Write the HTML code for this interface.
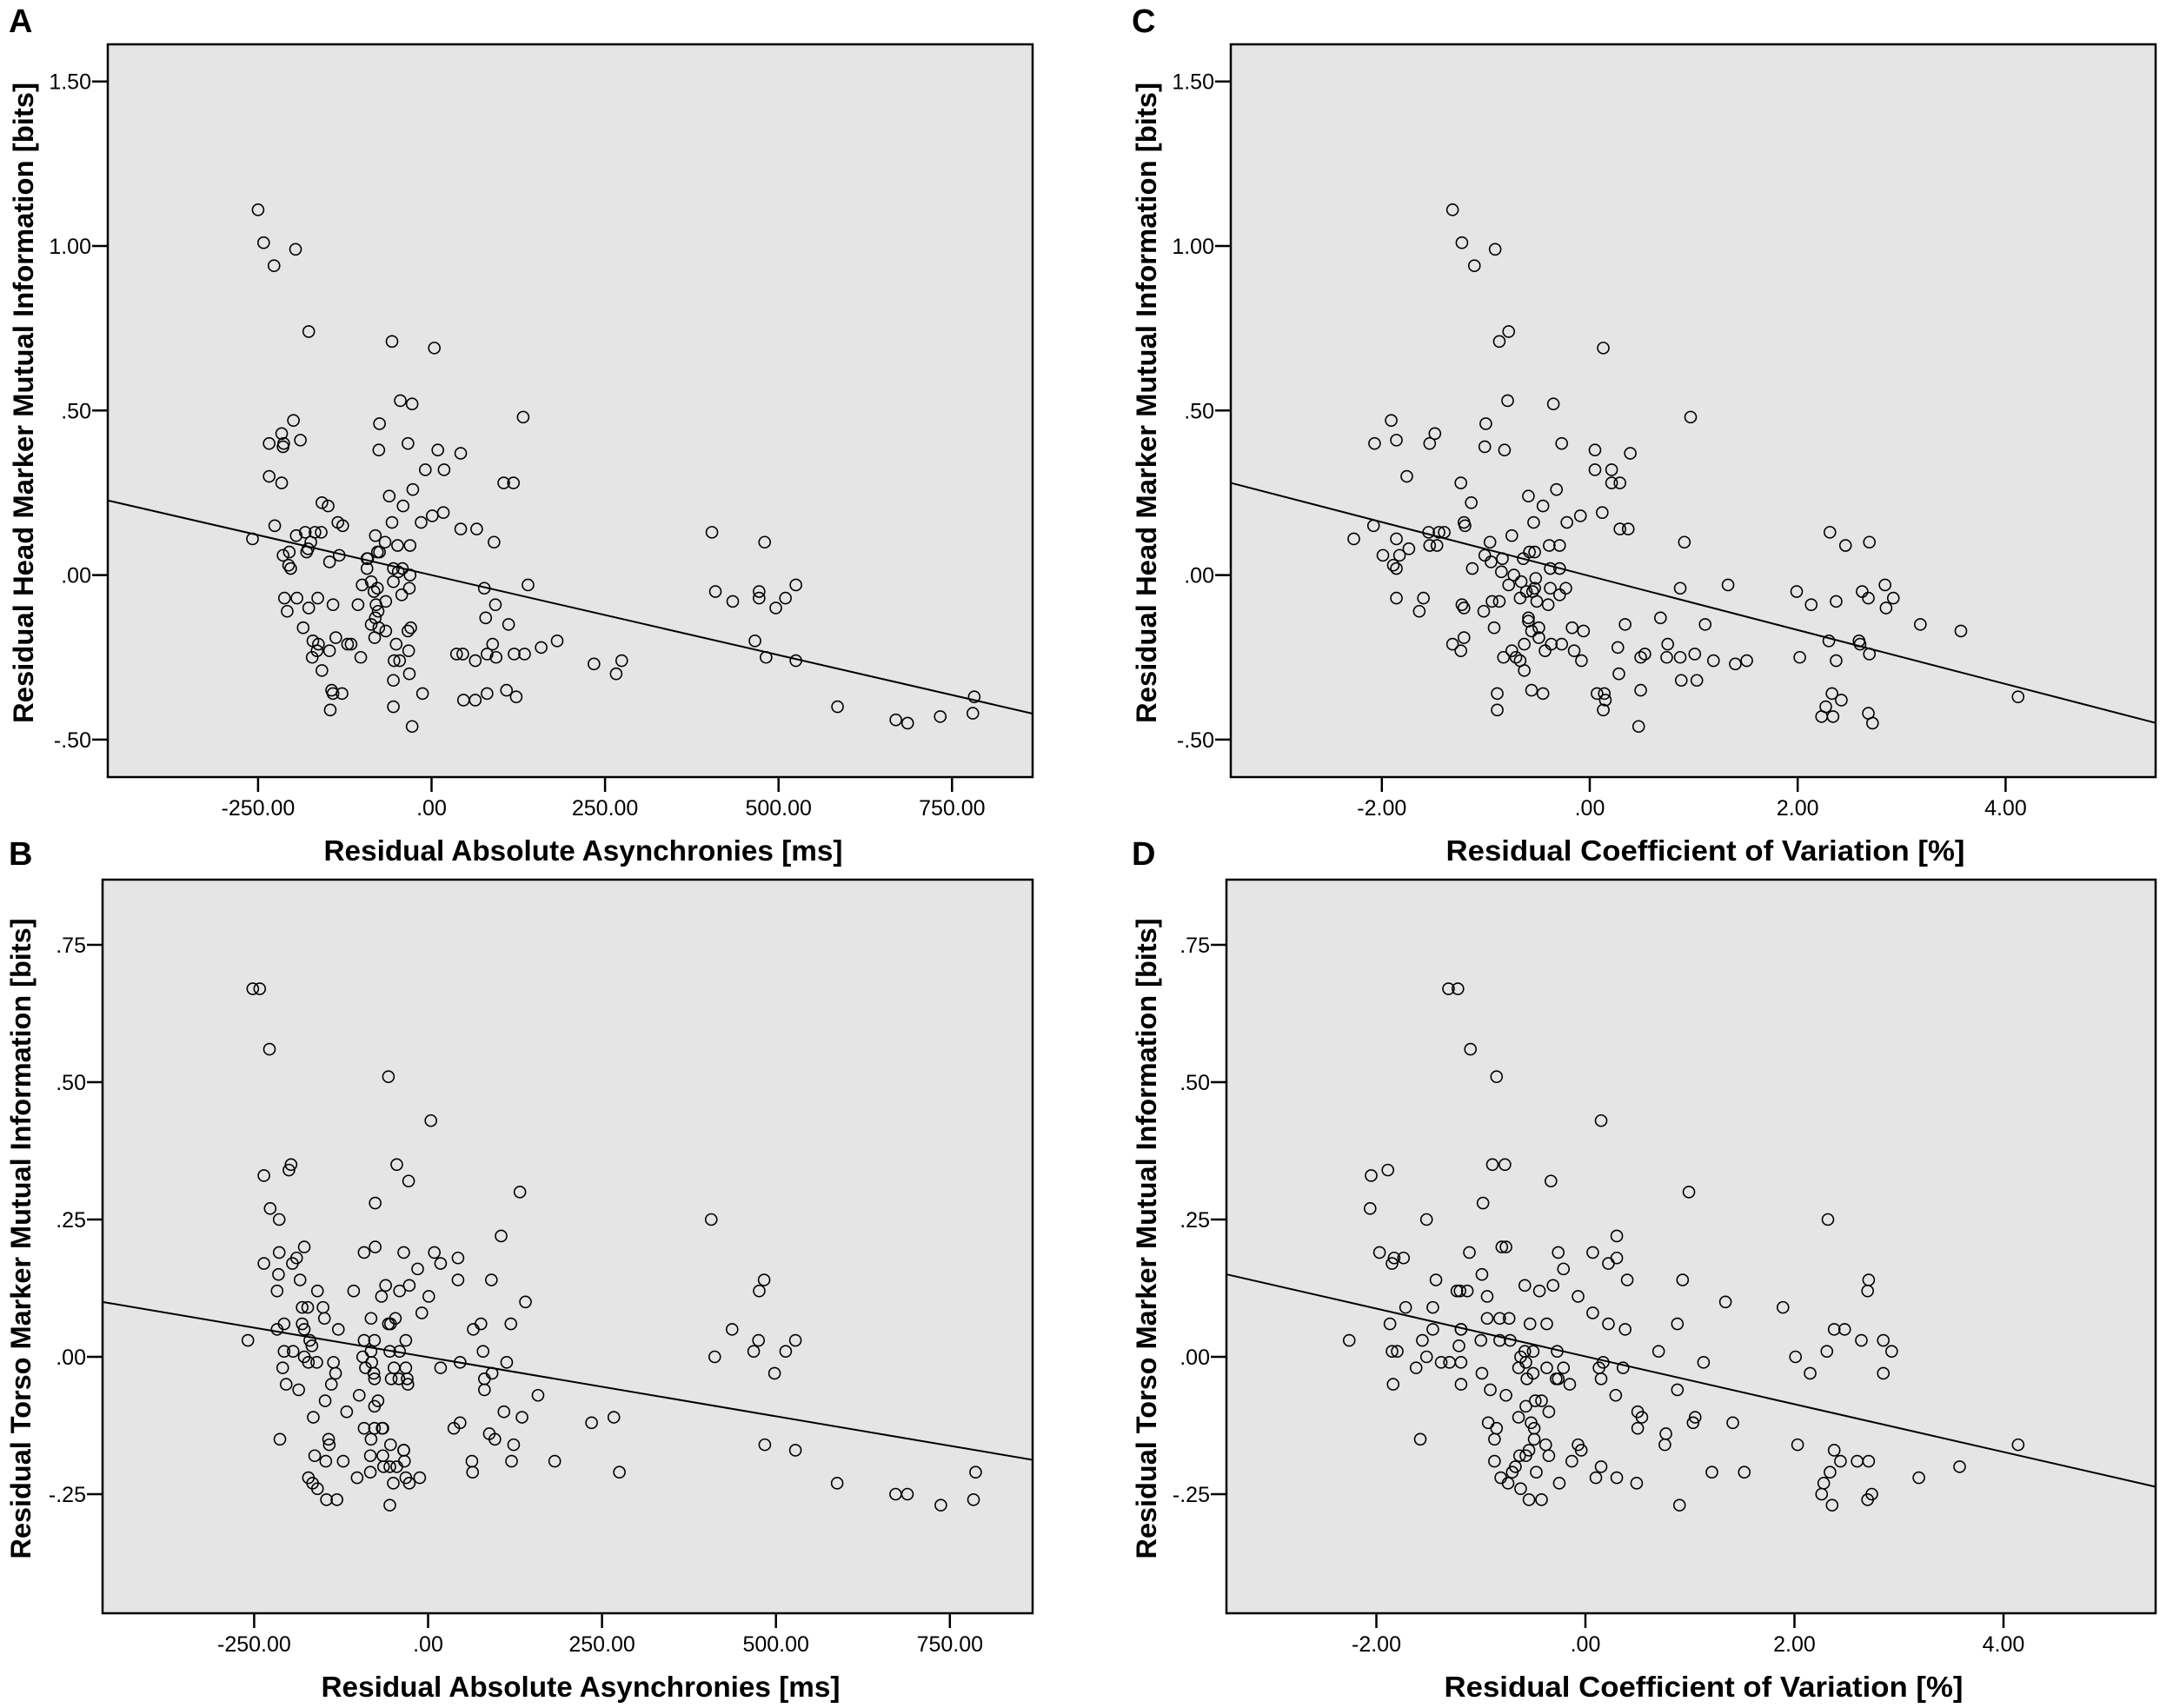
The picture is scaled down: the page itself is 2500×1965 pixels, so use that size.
<!DOCTYPE html>
<html><head><meta charset="utf-8"><style>
html,body{margin:0;padding:0;background:#fff;}
svg{display:block;}
text{font-family:"Liberation Sans",Arial,sans-serif;fill:#000;}
</style></head><body>
<svg id="fig" width="2500" height="1965" viewBox="0 0 2500 1965" xmlns="http://www.w3.org/2000/svg"></svg>
<script>
// ---- data ----
const aAsync=[-250,-242,-227,-196,-177,-57,4,-45,-28,132,-199,-75,-216,-234,-213,-214,-189,-76,-34,9,42,-9,18,-234,-216,104,118,-27,-61,-158,-149,-41,17,1,-15,-226,-135,-128,-57,42,65,-258,-195,-182,-168,-159,-81,90,404,480,-174,-67,-49,-31,-178,-180,-78,-75,-214,-205,-133,-93,-92,-206,-203,-147,-93,-55,-42,-48,-31,-55,-87,-100,-78,-83,-43,-32,76,139,409,472,472,525,510,434,496,-212,-194,-164,-142,-106,-177,-208,-66,-80,-77,-81,92,78,-87,-76,-82,-66,-34,-30,111,-185,-171,-163,-138,-121,-116,466,-51,-165,-147,-172,-102,-33,88,80,93,119,134,158,181,36,45,63,-54,-46,-32,-55,-158,234,266,274,482,525,-144,-142,-129,-13,80,108,46,63,122,-55,-146,-28,585,669,686,733,780,782];
const aHead=[1.11,1.01,0.94,0.99,0.74,0.71,0.69,0.53,0.52,0.48,0.47,0.46,0.43,0.40,0.40,0.39,0.41,0.38,0.40,0.38,0.37,0.32,0.32,0.30,0.28,0.28,0.28,0.26,0.24,0.22,0.21,0.21,0.19,0.18,0.16,0.15,0.16,0.15,0.16,0.14,0.14,0.11,0.12,0.13,0.13,0.13,0.12,0.10,0.13,0.10,0.10,0.10,0.09,0.09,0.08,0.07,0.07,0.07,0.06,0.07,0.06,0.05,0.05,0.03,0.02,0.04,0.02,0.02,0.02,0.01,0.00,-0.02,-0.02,-0.03,-0.04,-0.05,-0.06,-0.04,-0.04,-0.03,-0.05,-0.05,-0.07,-0.03,-0.07,-0.08,-0.10,-0.07,-0.07,-0.07,-0.09,-0.09,-0.10,-0.11,-0.08,-0.09,-0.11,-0.13,-0.09,-0.13,-0.15,-0.16,-0.19,-0.17,-0.17,-0.16,-0.15,-0.16,-0.20,-0.21,-0.19,-0.21,-0.21,-0.20,-0.21,-0.23,-0.23,-0.25,-0.25,-0.23,-0.21,-0.24,-0.25,-0.24,-0.24,-0.22,-0.20,-0.24,-0.24,-0.26,-0.26,-0.26,-0.30,-0.32,-0.29,-0.27,-0.30,-0.26,-0.25,-0.26,-0.35,-0.36,-0.36,-0.36,-0.36,-0.35,-0.38,-0.38,-0.37,-0.40,-0.41,-0.46,-0.40,-0.44,-0.45,-0.43,-0.42,-0.37];
const bAsync=[-252,-242,-228,-57,4,-197,-200,-236,-45,-28,132,-76,-227,-214,407,105,-178,-214,-92,-76,-35,9,-236,-195,-189,43,18,-15,-215,-184,43,91,483,-217,-159,-107,-61,-41,-27,1,-67,476,140,-173,-181,-151,-149,-82,-47,-9,-57,-54,119,76,-207,-217,-181,-178,-129,65,437,-259,-170,-92,-77,-32,475,528,-207,-194,-167,-82,-55,-41,79,468,514,-178,-94,412,-209,-172,-160,-136,-90,-81,-49,-32,18,46,113,-133,-78,-77,-53,-42,-30,81,92,498,-204,-139,-29,-186,81,-148,-99,-72,-77,158,-117,109,-165,-92,-77,-65,-66,37,46,135,235,267,88,-213,-143,-142,-82,-54,-35,-35,123,96,484,528,-163,-83,-65,-34,-147,-122,63,120,182,-102,-83,-64,-55,-45,-32,-12,64,275,-172,-166,-159,-50,-27,588,-146,-131,-55,672,689,737,784,787];
const bTorso=[0.67,0.67,0.56,0.51,0.43,0.35,0.34,0.33,0.35,0.32,0.30,0.28,0.27,0.25,0.25,0.22,0.20,0.19,0.19,0.20,0.19,0.19,0.17,0.17,0.18,0.18,0.17,0.16,0.15,0.14,0.14,0.14,0.14,0.12,0.12,0.12,0.13,0.12,0.13,0.11,0.11,0.12,0.10,0.09,0.09,0.09,0.07,0.07,0.07,0.08,0.06,0.06,0.06,0.06,0.06,0.05,0.06,0.05,0.05,0.05,0.05,0.03,0.03,0.03,0.03,0.03,0.03,0.03,0.01,0.01,0.02,0.01,0.01,0.01,0.01,0.01,0.01,0.00,0.00,0.00,-0.02,-0.01,-0.01,-0.01,-0.02,-0.01,-0.02,-0.02,-0.02,-0.01,-0.01,-0.03,-0.03,-0.04,-0.04,-0.04,-0.04,-0.04,-0.03,-0.03,-0.05,-0.05,-0.05,-0.06,-0.06,-0.08,-0.07,-0.08,-0.09,-0.07,-0.10,-0.10,-0.11,-0.13,-0.13,-0.13,-0.13,-0.13,-0.12,-0.11,-0.12,-0.11,-0.14,-0.15,-0.15,-0.16,-0.15,-0.16,-0.17,-0.17,-0.16,-0.15,-0.16,-0.17,-0.18,-0.18,-0.18,-0.19,-0.19,-0.19,-0.19,-0.19,-0.19,-0.22,-0.21,-0.20,-0.20,-0.20,-0.22,-0.22,-0.21,-0.21,-0.22,-0.23,-0.24,-0.23,-0.23,-0.23,-0.26,-0.26,-0.27,-0.25,-0.25,-0.27,-0.26,-0.21];
const cCV=[-1.32,-1.23,-0.91,-1.11,-0.78,-0.87,0.13,-0.79,-0.35,0.97,-1.91,-1.00,-1.49,-2.07,-1.86,-1.54,-0.27,-1.01,-0.82,0.05,0.39,0.05,0.21,-1.76,-1.24,0.21,0.29,-0.32,-0.59,-1.14,-0.45,0.12,-0.09,-0.22,-1.21,-1.20,-0.54,-2.08,0.29,0.37,-2.27,-1.86,-1.40,-1.45,-1.55,-0.75,0.91,2.31,2.69,2.46,-1.54,-1.47,-0.96,-0.39,-0.29,-1.74,-1.83,-1.99,-1.01,-0.58,-0.53,-0.84,-0.64,-0.95,-1.89,-1.86,-1.13,-0.38,-0.29,-0.85,-0.73,-0.52,-0.66,-0.78,-0.38,-0.23,-0.61,-0.55,-0.53,-0.29,-0.67,-0.51,-0.40,-0.94,-0.87,0.87,1.33,1.99,2.62,2.84,2.68,2.92,2.37,2.13,2.85,-1.86,-1.60,-1.64,-1.23,-1.21,-1.02,-0.59,-0.59,-0.49,0.68,-0.92,-0.56,-0.49,-0.17,-0.06,0.34,1.11,3.18,3.57,-1.21,-1.32,-1.24,-0.63,-0.37,-0.27,-0.15,-0.43,-0.75,-0.83,-0.71,-0.67,-0.08,0.27,0.75,0.53,0.49,0.74,0.87,1.01,1.19,1.40,1.51,2.02,2.30,2.59,2.60,2.69,2.37,-0.63,0.28,1.03,0.88,-0.56,-0.45,-0.89,0.07,0.14,0.49,0.15,0.13,-0.89,0.47,2.33,2.42,2.27,2.23,2.34,2.68,2.72,4.12];
const cHead=[1.11,1.01,0.99,0.94,0.74,0.71,0.69,0.53,0.52,0.48,0.47,0.46,0.43,0.40,0.41,0.40,0.40,0.39,0.38,0.38,0.37,0.32,0.32,0.30,0.28,0.28,0.28,0.26,0.24,0.22,0.21,0.19,0.18,0.16,0.16,0.15,0.16,0.15,0.14,0.14,0.11,0.11,0.13,0.13,0.13,0.12,0.10,0.13,0.10,0.09,0.09,0.09,0.10,0.09,0.09,0.08,0.06,0.06,0.06,0.07,0.07,0.05,0.05,0.04,0.03,0.02,0.02,0.02,0.02,0.01,0.00,-0.01,-0.02,-0.03,-0.04,-0.04,-0.05,-0.05,-0.04,-0.06,-0.07,-0.08,-0.09,-0.08,-0.08,-0.04,-0.03,-0.05,-0.05,-0.03,-0.07,-0.07,-0.08,-0.09,-0.10,-0.07,-0.07,-0.11,-0.09,-0.10,-0.11,-0.13,-0.14,-0.16,-0.13,-0.16,-0.17,-0.19,-0.16,-0.17,-0.15,-0.15,-0.15,-0.17,-0.19,-0.21,-0.23,-0.21,-0.21,-0.21,-0.23,-0.23,-0.23,-0.25,-0.25,-0.26,-0.26,-0.22,-0.21,-0.24,-0.25,-0.25,-0.25,-0.24,-0.26,-0.27,-0.26,-0.25,-0.20,-0.20,-0.21,-0.24,-0.26,-0.29,-0.30,-0.32,-0.32,-0.35,-0.36,-0.36,-0.36,-0.36,-0.35,-0.38,-0.41,-0.41,-0.46,-0.36,-0.38,-0.40,-0.43,-0.43,-0.42,-0.45,-0.37];
const dCV=[-1.31,-1.22,-1.10,-0.85,0.15,-0.89,-0.77,-2.05,-1.89,-0.33,0.99,-0.98,-2.06,-1.52,2.32,0.30,-0.76,-0.80,-1.97,-1.11,-0.26,0.07,-1.83,-1.74,-1.85,0.30,0.22,-0.21,-0.99,-1.43,0.40,0.93,2.71,-1.23,-1.20,-1.13,-0.58,-0.44,-0.31,-0.07,2.70,1.34,-0.94,-1.46,-1.72,-0.94,-0.82,-0.73,0.07,1.89,-1.87,-1.46,-1.19,-1.19,-0.53,-0.37,0.22,0.88,0.38,2.38,2.48,-2.26,-1.56,-1.00,-0.82,-0.72,2.64,2.85,-1.85,-1.80,-1.21,-0.58,-0.50,-0.27,0.70,2.31,2.93,-1.52,-0.62,2.01,-1.62,-1.38,-1.30,-1.19,-0.64,-0.57,-0.37,-0.21,0.13,0.17,0.36,1.13,-0.99,-0.56,-0.50,-0.28,-0.26,0.15,2.15,2.85,-1.84,-1.19,-0.15,-0.91,-0.76,0.88,0.29,-0.42,-0.48,-0.57,-0.35,0.50,-0.64,0.54,1.05,1.03,0.50,1.41,-0.93,-0.85,-0.52,-0.49,0.77,-1.58,-0.87,-0.49,0.76,2.03,-0.38,-0.07,-0.04,-0.54,-0.35,2.38,2.44,2.60,2.71,-0.57,-0.63,-0.13,-0.87,0.15,-0.47,-0.67,-0.70,-0.74,-0.81,-0.62,-0.25,0.10,0.30,0.49,1.21,1.52,2.34,2.28,3.19,3.58,4.14,2.26,2.36,2.70,2.74,-0.54,-0.42,0.90];
const dTorso=[0.67,0.67,0.56,0.51,0.43,0.35,0.35,0.33,0.34,0.32,0.30,0.28,0.27,0.25,0.25,0.22,0.20,0.20,0.19,0.19,0.19,0.19,0.18,0.18,0.17,0.18,0.17,0.16,0.15,0.14,0.14,0.14,0.14,0.12,0.12,0.12,0.13,0.12,0.13,0.11,0.12,0.10,0.11,0.09,0.09,0.07,0.07,0.07,0.08,0.09,0.06,0.05,0.05,0.05,0.06,0.06,0.06,0.06,0.05,0.05,0.05,0.03,0.03,0.03,0.03,0.03,0.03,0.03,0.01,0.01,0.02,0.01,0.01,0.01,0.01,0.01,0.01,0.00,0.00,0.00,-0.02,-0.01,-0.01,-0.01,-0.02,-0.01,-0.02,-0.02,-0.02,-0.01,-0.02,-0.01,-0.03,-0.04,-0.03,-0.04,-0.04,-0.04,-0.03,-0.03,-0.05,-0.05,-0.05,-0.06,-0.07,-0.06,-0.07,-0.08,-0.08,-0.09,-0.10,-0.10,-0.11,-0.11,-0.11,-0.12,-0.13,-0.12,-0.12,-0.13,-0.12,-0.13,-0.14,-0.15,-0.15,-0.15,-0.16,-0.16,-0.16,-0.16,-0.17,-0.17,-0.18,-0.17,-0.19,-0.19,-0.19,-0.18,-0.18,-0.19,-0.19,-0.20,-0.21,-0.20,-0.21,-0.23,-0.22,-0.24,-0.23,-0.22,-0.22,-0.23,-0.21,-0.21,-0.21,-0.23,-0.22,-0.20,-0.16,-0.25,-0.27,-0.26,-0.25,-0.26,-0.26,-0.27];
// fit lines: [intercept, slope]
const fitA=[0.0,-0.000486];
const fitB=[-0.0007,-0.000215];
const fitC=[-0.003,-0.082];
const fitD=[0.0008,-0.0435];
const asyncTicks=[-250,0,250,500,750];
const asyncTickLabels=["-250.00",".00","250.00","500.00","750.00"];
const cvTicks=[-2,0,2,4];
const cvTickLabels=["-2.00",".00","2.00","4.00"];
const headTicks=[-0.5,0,0.5,1,1.5];
const headTickLabels=["-.50",".00",".50","1.00","1.50"];
const torsoTicks=[-0.25,0,0.25,0.5,0.75];
const torsoTickLabels=["-.25",".00",".25",".50",".75"];

const NS="http://www.w3.org/2000/svg";
const svg=document.getElementById('fig');
function mk(tag,attrs,parent){const e=document.createElementNS(NS,tag);for(const k in attrs)e.setAttribute(k,attrs[k]);(parent||svg).appendChild(e);return e;}

function panel(p){
  const g=mk('g',{});
  
  
  const X=v=>p.x0+v*p.xs, Y=v=>p.y0-v*p.ys;
  const bg=mk('rect',{x:p.L,y:p.T,width:p.R-p.L,height:p.B-p.T,fill:'#e5e5e5',stroke:'none'},g);
  
  
  // regression line
  const xl=(p.L-p.x0)/p.xs, xr=(p.R-p.x0)/p.xs;
  const fl=mk('line',{x1:p.L,y1:Y(p.fit[0]+p.fit[1]*xl),x2:p.R,y2:Y(p.fit[0]+p.fit[1]*xr),stroke:'#000','stroke-width':2},g);
  
  
  for(let i=0;i<p.xd.length;i++){
    const c=mk('circle',{cx:X(p.xd[i]),cy:Y(p.yd[i]),r:6.5,fill:'none',stroke:'#000','stroke-width':1.6},g);
    
    
  }
  const fr=mk('rect',{x:p.L,y:p.T,width:p.R-p.L,height:p.B-p.T,fill:'none',stroke:'#000','stroke-width':2.5},g);
  
  
  p.xt.forEach((v,i)=>{
    mk('line',{x1:X(v),y1:p.B,x2:X(v),y2:p.B+17,stroke:'#000','stroke-width':2.5},g);
    const t=mk('text',{x:X(v),y:p.B+44,'font-size':25,'text-anchor':'middle'},g);
    t.textContent=p.xl[i];
    
    
  });
  p.yt.forEach((v,i)=>{
    mk('line',{x1:p.L-18,y1:Y(v),x2:p.L,y2:Y(v),stroke:'#000','stroke-width':2.5},g);
    const t=mk('text',{x:p.L-19,y:Y(v)+9,'font-size':25,'text-anchor':'end'},g);
    t.textContent=p.yl[i];
    
    
  });
  const xt=mk('text',{x:p.xtc,y:p.B+96,'font-size':33,'font-weight':'bold','text-anchor':'middle',textLength:597,lengthAdjust:'spacingAndGlyphs'},g);
  xt.textContent=p.xtitle;
  
  
  const cy=(p.T+p.B)/2-9;
  const yt=mk('text',{x:0,y:0,'font-size':32,'font-weight':'bold','text-anchor':'middle',textLength:737,lengthAdjust:'spacingAndGlyphs',transform:`translate(${p.ytx},${cy}) rotate(-90)`},g);
  yt.textContent=p.ytitle;
  
  
  const lb=mk('text',{x:p.lx,y:p.ly,'font-size':38,'font-weight':'bold'},g);
  lb.textContent=p.id;
  
  
}
const HT="Residual Head Marker Mutual Information [bits]";
const TT="Residual Torso Marker Mutual Information [bits]";
const AT="Residual Absolute Asynchronies [ms]";
const CT="Residual Coefficient of Variation [%]";
panel({id:'A',L:124,R:1188,T:51,B:894,x0:496.5,xs:0.7984,y0:661.6,ys:378.6,xd:aAsync,yd:aHead,fit:fitA,xt:asyncTicks,xl:asyncTickLabels,yt:headTicks,yl:headTickLabels,xtitle:AT,ytitle:HT,xtc:671,ytx:38,lx:10,ly:37});
panel({id:'B',L:118,R:1188,T:1012,B:1856,x0:492.5,xs:0.8004,y0:1561,ys:632,xd:bAsync,yd:bTorso,fit:fitB,xt:asyncTicks,xl:asyncTickLabels,yt:torsoTicks,yl:torsoTickLabels,xtitle:AT,ytitle:TT,xtc:668,ytx:35,lx:10,ly:995});
panel({id:'C',L:1416,R:2480,T:51,B:894,x0:1829,xs:119.6,y0:661.6,ys:378.6,xd:cCV,yd:cHead,fit:fitC,xt:cvTicks,xl:cvTickLabels,yt:headTicks,yl:headTickLabels,xtitle:CT,ytitle:HT,xtc:1962,ytx:1330,lx:1302,ly:37});
panel({id:'D',L:1411,R:2480,T:1012,B:1856,x0:1824,xs:120.25,y0:1561,ys:632,xd:dCV,yd:dTorso,fit:fitD,xt:cvTicks,xl:cvTickLabels,yt:torsoTicks,yl:torsoTickLabels,xtitle:CT,ytitle:TT,xtc:1960,ytx:1330,lx:1302,ly:995});
</script>
</body></html>
